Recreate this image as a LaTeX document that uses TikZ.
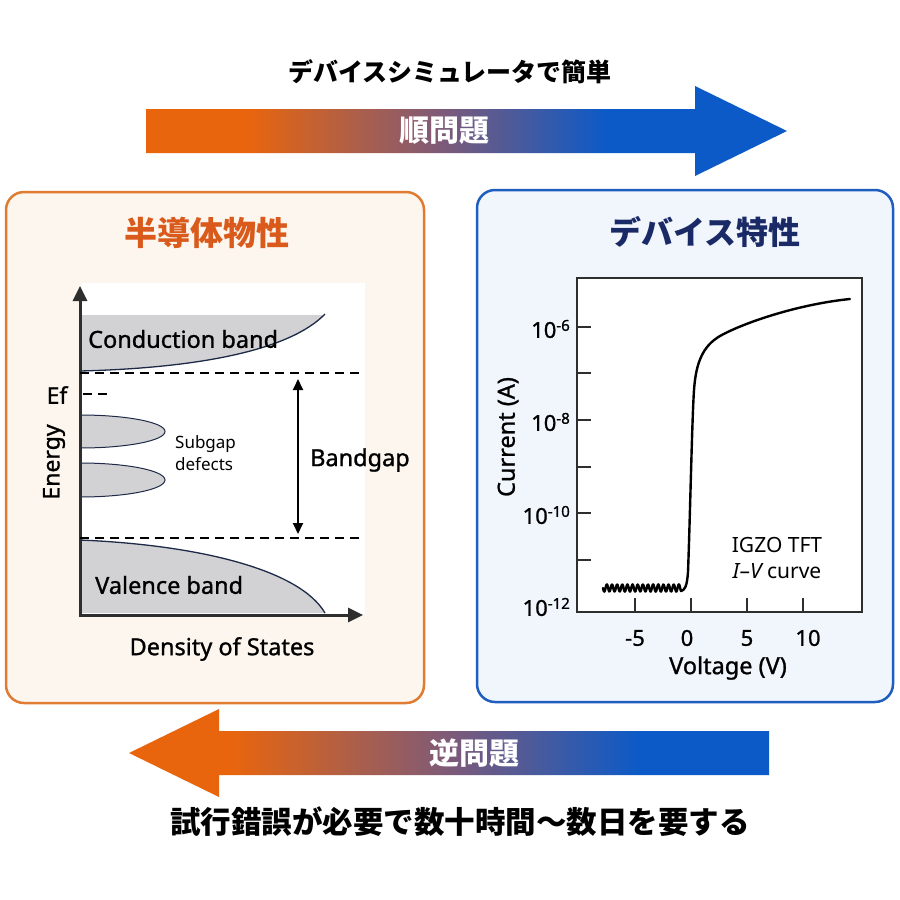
\documentclass[tikz,border=0pt]{standalone}
\usepackage{fontspec}
\setmainfont{Noto Sans}
\newfontfamily\semib{Noto Sans}[FakeBold=1.1]
\newfontfamily\jp{Noto Sans CJK JP}
\usetikzlibrary{arrows.meta}
\definecolor{orA}{HTML}{E8650E}
\definecolor{blA}{HTML}{0B5AC8}
\definecolor{midA}{HTML}{7E5A78}
\definecolor{boxor}{HTML}{E07B32}
\definecolor{boxorbg}{HTML}{FDF6EE}
\definecolor{boxbl}{HTML}{1F5DBF}
\definecolor{boxblbg}{HTML}{F1F5FC}
\definecolor{titleor}{HTML}{D95A1B}
\definecolor{titlebl}{HTML}{1A2A66}
\definecolor{bandgray}{HTML}{D2D2D4}
\definecolor{curvecol}{HTML}{1E2A48}
\definecolor{axcol}{HTML}{2E2E2E}
\pgfdeclarehorizontalshading{fwdsh}{100bp}{color(0bp)=(orA); color(33bp)=(orA); color(48bp)=(midA); color(61bp)=(blA); color(100bp)=(blA)}
\pgfdeclarehorizontalshading{bwdsh}{100bp}{color(0bp)=(orA); color(33bp)=(orA); color(50bp)=(midA); color(65bp)=(blA); color(100bp)=(blA)}
\begin{document}
\begin{tikzpicture}[x=1pt,y=-1pt,
  jptitle/.style={font=\jp\bfseries\fontsize{#1}{#1}\selectfont, inner sep=0},
  lbl/.style={font=\semib\fontsize{#1}{#1}\selectfont, inner sep=0},
  lightlbl/.style={font=\fontsize{#1}{#1}\selectfont, inner sep=0},
  boxstyle/.style={line width=2.5pt, rounded corners=18pt},
  axline/.style={line width=3pt, draw=axcol, -{Triangle[length=15pt,width=14pt]}},
  dashline/.style={line width=1.8pt, dash pattern=on 9pt off 6pt},
  bandcurve/.style={line width=1.3pt, draw=curvecol},
  frame/.style={line width=2.6pt, draw=axcol},
  tick/.style={line width=2.4pt, draw=axcol},
  ivcurve/.style={line width=2.4pt, line join=round, line cap=round}]
\useasboundingbox[fill=white] (0,0) rectangle (900,900);

% ---------- top ----------
\node[jptitle=25] (toptxt) at (450,72) {デバイスシミュレータで簡単};
\shade[shading=fwdsh] (146,109) -- (695,109) -- (695,86) -- (787,131) -- (695,176) -- (695,153) -- (146,153) -- cycle;
\node[jptitle=30, white] (fwd) at (444,131) {順問題};

% ---------- boxes ----------
\draw[boxstyle, draw=boxor, fill=boxorbg] (6,192) rectangle (424,703);
\draw[boxstyle, draw=boxbl, fill=boxblbg] (477,190) rectangle (893,702);
\node[jptitle=33, text=titleor] (lt) at (207,233) {半導体物性};
\node[jptitle=32, text=titlebl] (rt) at (705,232) {デバイス特性};

% ---------- left: band diagram ----------
\fill[white] (82,283) rectangle (365,614);
\fill[bandgray] (80,315) -- (325,315) .. controls (290,350) and (200,368) .. (80,371) -- cycle;
\draw[bandcurve] (80,371) .. controls (200,368) and (290,350) .. (325,314);
\fill[bandgray] (80,540) .. controls (200,545) and (300,570) .. (325,613) -- (80,613) -- cycle;
\draw[bandcurve] (80,540) .. controls (200,545) and (300,570) .. (325,613);
\begin{scope}
  \clip (80,400) rectangle (200,510);
  \filldraw[fill=bandgray, draw=curvecol, line width=1pt] (80,431.5) ellipse [x radius=85, y radius=16.5];
  \filldraw[fill=bandgray, draw=curvecol, line width=1pt] (80,480) ellipse [x radius=85, y radius=17];
\end{scope}
\coordinate (o) at (80,615);
\coordinate (ytop) at (80,286);
\coordinate (xend) at (363,615);
\draw[axline] (o) -- (ytop);
\draw[axline] ([xshift=-1.5pt]o) -- (xend);
\coordinate (d1a) at (80,373); \coordinate (d1b) at (362,373);
\coordinate (d2a) at (80,538); \coordinate (d2b) at (362,538);
\coordinate (efa) at (83,394); \coordinate (efb) at (111,394);
\draw[dashline] (d1a) -- (d1b);
\draw[dashline] (d2a) -- (d2b);
\draw[dashline] (efa) -- (efb);
\coordinate (bg1) at (298,379); \coordinate (bg2) at (298,534);
\draw[line width=1.8pt, {Triangle[length=11pt,width=10pt]}-{Triangle[length=11pt,width=10pt]}] (bg1) -- (bg2);
\node[lbl=23.5, anchor=west] (cb) at (88,339) {Conduction band};
\node[lbl=23.5, anchor=west] (vb) at (95,585) {Valence band};
\node[lbl=23] (ef) at (57,395) {Ef};
\node[lbl=23, rotate=90] (en) at (54,462) {Energy};
\node[lbl=23.5, anchor=west] (bgl) at (310,460) {Bandgap};
\node[lightlbl=17, anchor=west] (sg1) at (175,444) {Subgap};
\node[lightlbl=17, anchor=west] (sg2) at (175,464) {defects};
\node[lbl=23.5] (dos) at (222,649) {Density of States};

% ---------- right: I-V plot ----------
\fill[white] (577,278) rectangle (862,612);
\draw[frame] (577,278) -- (862,278) -- (862,612) -- (577,612) -- cycle;
\foreach \yy in {327,373,420,467,513,560} { \draw[tick] (578,\yy) -- (591,\yy); }
\foreach \xx in {635,691,747,803} { \draw[tick] (\xx,611) -- (\xx,598); }
\node[lbl=22, anchor=east] (y6) at (570,329) {10\raisebox{0.6ex}{\fontsize{15}{15}\selectfont -6}};
\node[lbl=22, anchor=east] (y8) at (570,422) {10\raisebox{0.6ex}{\fontsize{15}{15}\selectfont -8}};
\node[lbl=22, anchor=east] (y10) at (570,515) {10\raisebox{0.6ex}{\fontsize{15}{15}\selectfont -10}};
\node[lbl=22, anchor=east] (y12) at (570,607) {10\raisebox{0.6ex}{\fontsize{15}{15}\selectfont -12}};
\node[lbl=22] (xm5) at (635,638) {-5};
\node[lbl=22] (x0) at (687,638) {0};
\node[lbl=22] (x5) at (747,638) {5};
\node[lbl=22] (x10) at (808,638) {10};
\node[lbl=23.5, rotate=90] (cur) at (508,437) {Current (A)};
\node[lbl=23.5] (volt) at (728,668) {Voltage (V)};
\node[lightlbl=21] (igzo) at (777,545) {IGZO TFT};
\node[lightlbl=21] (ivc) at (777,571) {\itshape I\upshape–\itshape V\upshape\ curve};
\draw[ivcurve] plot[domain=603:681, samples=180, smooth] (\x,{588+3.6*sin((\x-603)*70)})
  .. controls (685,590) and (687,586) .. (688,572)
  .. controls (690,520) and (692,420) .. (694,390)
  .. controls (696,362) and (703,346) .. (720,336)
  .. controls (745,322) and (800,304) .. (850,299);

% ---------- bottom ----------
\shade[shading=bwdsh] (129,753) -- (219,709) -- (219,731) -- (769,731) -- (769,775) -- (219,775) -- (219,797) -- cycle;
\node[jptitle=30, white] (inv) at (474,753) {逆問題};
\node[jptitle=30.5] (bottxt) at (460,822) {試行錯誤が必要で数十時間～数日を要する};
\end{tikzpicture}
\end{document}
